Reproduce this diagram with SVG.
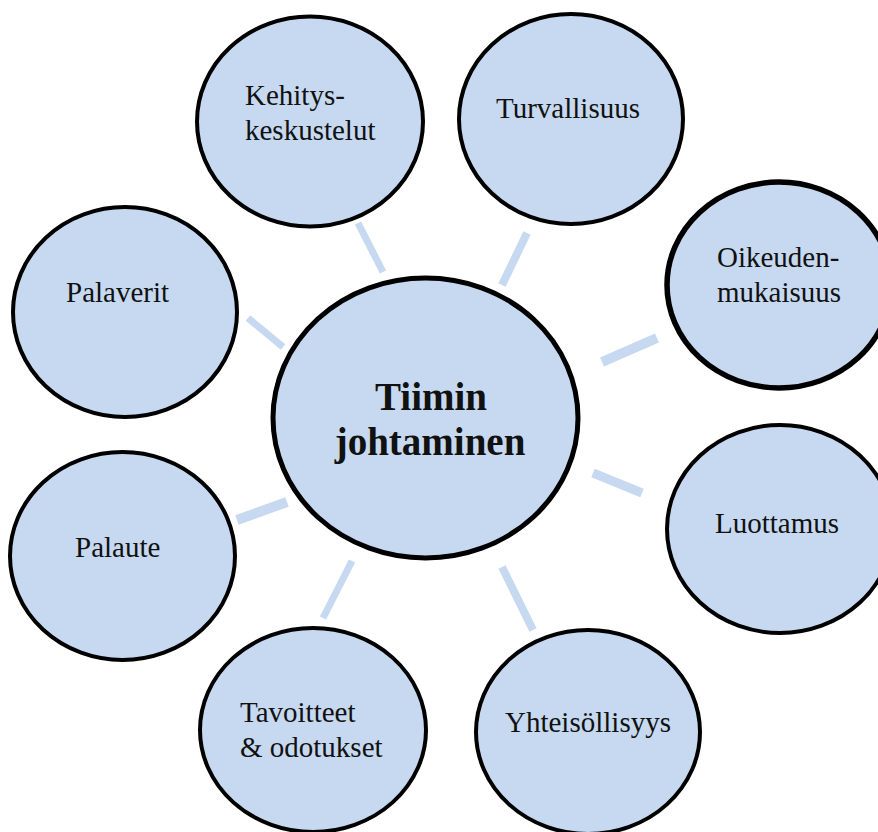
<svg xmlns="http://www.w3.org/2000/svg" width="878" height="832" viewBox="0 0 878 832">
<style>
.n{fill:#c6d9f0;stroke:#000;stroke-width:4}
.t{font-family:"Liberation Serif","Times New Roman",serif;font-size:29px;fill:#111}
.c{stroke:#c6d9f0;stroke-linecap:butt}
.b{font-family:"Liberation Serif","Times New Roman",serif;font-size:39px;font-weight:bold;fill:#111;text-anchor:middle}
</style>
<rect width="878" height="832" fill="#fff"/>
<g id="connectors">
<line class="c" x1="358" y1="223" x2="383" y2="272" stroke-width="7"/>
<line class="c" x1="527" y1="233" x2="502" y2="285" stroke-width="8"/>
<line class="c" x1="248" y1="318" x2="283" y2="347" stroke-width="7"/>
<line class="c" x1="237" y1="520" x2="287" y2="502" stroke-width="10"/>
<line class="c" x1="602" y1="362" x2="657" y2="338" stroke-width="10"/>
<line class="c" x1="593" y1="473" x2="642" y2="493" stroke-width="9"/>
<line class="c" x1="352" y1="561" x2="323" y2="618" stroke-width="7"/>
<line class="c" x1="502" y1="567" x2="533" y2="630" stroke-width="8"/>
</g>
<g id="kehitys">
<ellipse class="n" cx="310" cy="121.5" rx="113" ry="105"/>
<text class="t" x="245" y="105">Kehitys-</text>
<text class="t" x="245" y="140">keskustelut</text>
</g>
<g id="turvallisuus">
<ellipse class="n" cx="571" cy="119" rx="112" ry="105"/>
<text class="t" x="496" y="118">Turvallisuus</text>
</g>
<g id="oikeudenmukaisuus">
<ellipse class="n" cx="779" cy="285" rx="112" ry="103" style="stroke-width:5.5"/>
<text class="t" x="717" y="267">Oikeuden-</text>
<text class="t" x="717" y="302">mukaisuus</text>
</g>
<g id="palaverit">
<ellipse class="n" cx="125" cy="312" rx="112" ry="105"/>
<text class="t" x="66" y="302">Palaverit</text>
</g>
<g id="luottamus">
<ellipse class="n" cx="780" cy="529" rx="113" ry="104"/>
<text class="t" x="715" y="533">Luottamus</text>
</g>
<g id="palaute">
<ellipse class="n" cx="122.5" cy="556" rx="112.5" ry="104"/>
<text class="t" x="75" y="557">Palaute</text>
</g>
<g id="tavoitteet">
<ellipse class="n" cx="313" cy="730" rx="113" ry="102"/>
<text class="t" x="240" y="722">Tavoitteet</text>
<text class="t" x="240" y="757">&amp; odotukset</text>
</g>
<g id="yhteisollisyys">
<ellipse class="n" cx="588" cy="732" rx="112" ry="102"/>
<text class="t" x="505" y="732">Yhteisöllisyys</text>
</g>
<g id="center">
<ellipse class="n" cx="425.5" cy="418" rx="152.5" ry="140" style="stroke-width:5"/>
<text class="b" x="431" y="410">Tiimin</text>
<text class="b" x="430" y="455">johtaminen</text>
</g>
</svg>
